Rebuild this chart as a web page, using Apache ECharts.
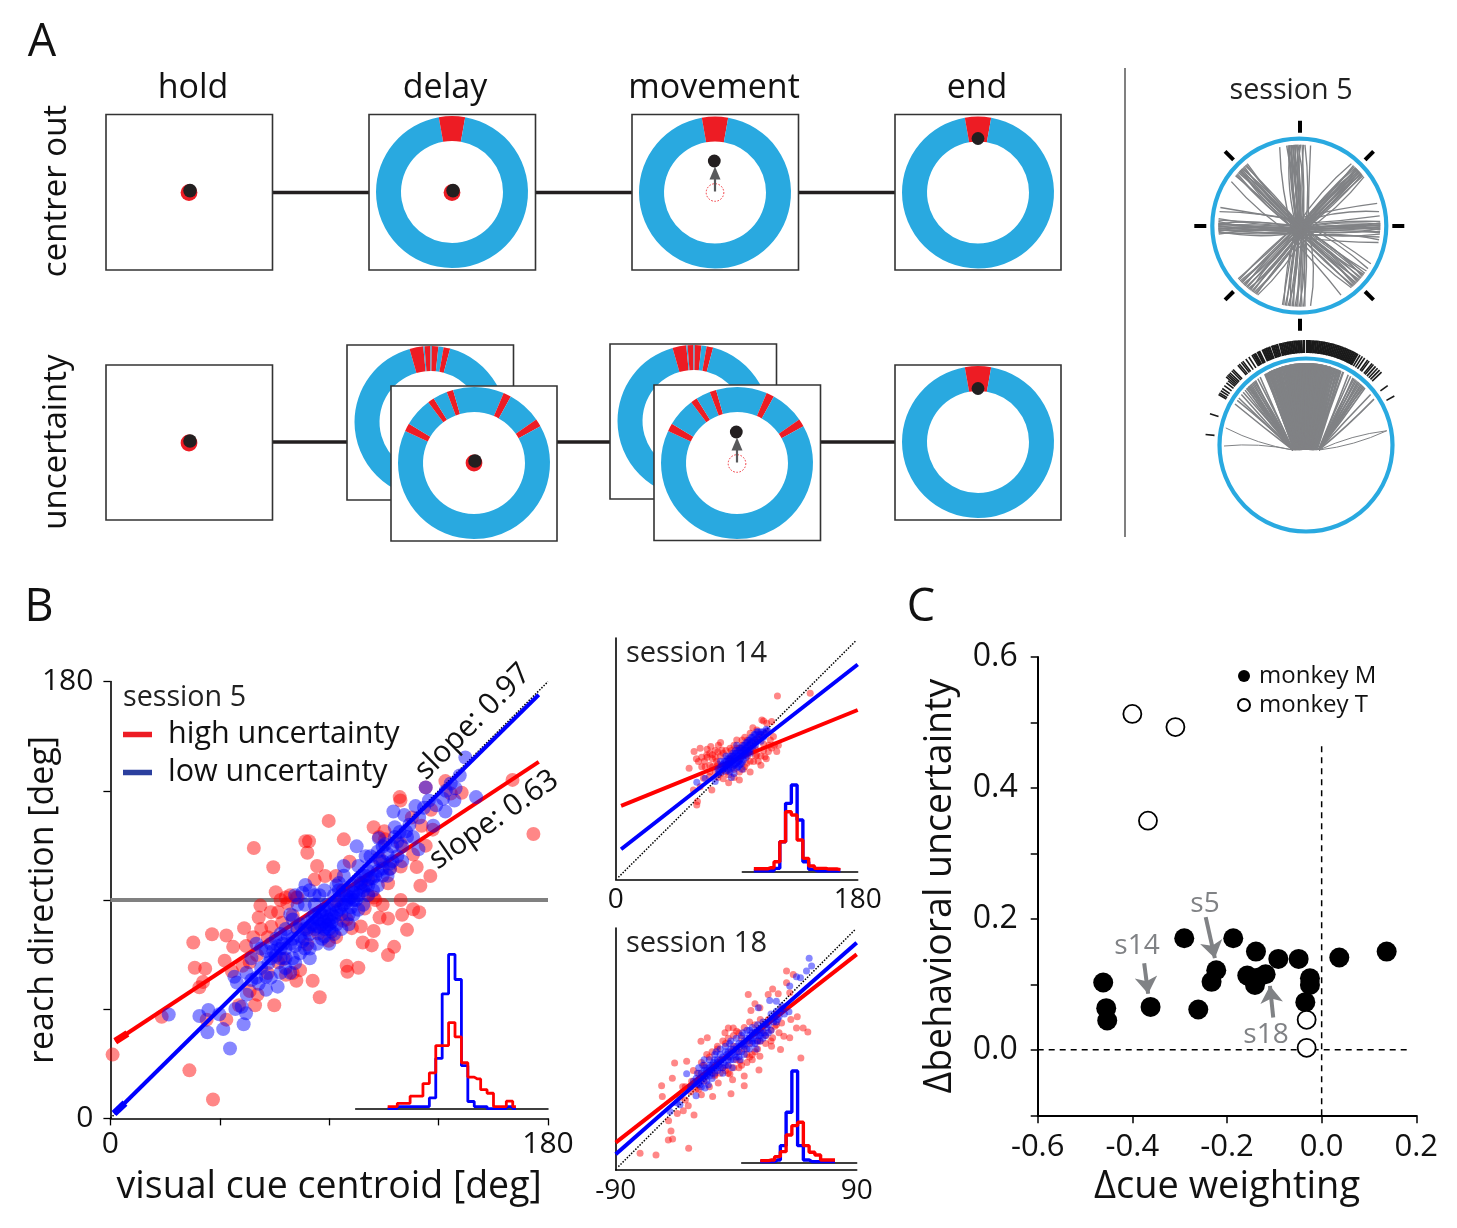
<!DOCTYPE html>
<html><head><meta charset="utf-8"><style>html,body{margin:0;padding:0;background:#fff}#c{width:1457px;height:1228px}</style>
<script src="https://cdn.jsdelivr.net/npm/echarts@6/dist/echarts.min.js"></script></head><body><div id="c"></div>
<script>
/* ---------- data ---------- */
const phaseTitles = ['hold','delay','movement','end'];
const cueSingle = [[-10,10]];
const cueBack = [[-16,-5.5],[-4.5,0],[1,6],[10,15]];
const cueFront = [[-65,-59],[-37,-32],[-21,-16],[23,29],[55,61]];

const targetAngles = [0,45,90,135,180,225,270,315];
const centerOutEnds = [
 -14,-9,-8,-7.5,-7,-6.5,-6,-5.5,-5,-4.5,-4,-3.5,-3,-2.5,-2,-1.5,-1,0,1,2,3,4,8,
 40,42,43,44,44.5,45,45.5,46,46.5,47,47.5,48,48.5,49,49.5,50,50.5,51,52,53,
 74,80,83,87,88,88.5,89,89.5,90,90.5,91,91.5,92,92.5,93,94,95,96,98,100,102,
 118,122,124,126,127,128,129,130,131,132,133,134,135,136,137,138,139,140,149,
 172,176,177,178,179,180,181,182,183,184,185,186,187,188,189,190,191,192,
 211,212,213,214,215,216,217,218,219,220,221,222,223,224,225,226,227,228,229,
 264,265,266,266.5,267,267.5,268,268.5,269,269.5,270,270.5,271,271.5,272,273,274,275,280,283,
 303,308,309,310,311,312,312.5,313,313.5,314,314.5,315,316,317,318,319,320];
const centerOutBends = [0.06,-0.04,0.02,-0.08,0.03,0.1,-0.02,0.05,-0.06,0.01,0.08,-0.03,0.04];
const bundleCentres = [-3,47,91,131,184,220,269,314];

const fanEnds = [-90.7,-78,-60,-57,-55,-52,-50,-48,-46.5,-46,-45,-44.5,-44,-43,-42,-41,-40,-39,-38,-36,-34,
 -30,-29,-28,-27,-26,-25.5,-25,-24.5,-24,-23,-22.5,-22,-21,-20.5,-20,-19,-18.5,-18,-17,-16.5,-16,-15,-14.5,-14,-13.5,-13,-12,-11.5,-11,-10.5,-10,-9,-8.5,-8,-7.5,-7,-6.5,-6,-5.5,-5,-4.5,-4,-3.5,-3,-2.5,-2,-1.5,-1,-0.5,0,
 0.5,1,1.5,2,2.5,3,3.5,4,4.5,5,5.5,6,6.5,7,7.5,8,8.5,9,9.5,10,10.5,11,11.5,12,12.5,13,13.5,14,14.5,15,16,16.5,17,17.5,18,19,20,21,22,23,24,25,27,
 31,33,35,36,37,38,39,40,41,42,43,44,45,46,52,56,80,80];
const fanBends = [0.05,-0.03,0.02,-0.05,0.01,0.04,-0.02,0.03,-0.04];
const rugAngles = [-84,-72,-60,-59,-57.5,-56,-54,-52,-50.5,-49.5,-48.5,-47.5,-46.5,-45,-44,-40.5,-39.5,-38,-37,-35,-33,-31,-30,-29,-27.5,-26.5,
 -24.5,-23.5,-22.5,-21.5,-20.5,-19,-18,-17,-16,-14.5,-13.5,-12.5,-11.5,-10.5,-9.5,-8.5,-7.5,-6.5,-5.5,-4.5,-3.5,-2.5,-1.5,
 0.5,1.5,2.5,3.5,4.5,5.5,6.5,7.5,8.5,9.5,10.5,11.5,12.5,13.5,14.5,15.5,16.5,17.5,18.5,19.5,20.5,21.5,22.5,23.5,24.5,25.5,26.5,27.5,28.5,29.5,31,32.5,34,36,37,39,40,41.5,43,44.5,46,54,61];

const sessionFiveRed = [[0.9,26.3],[32.5,19.8],[42.2,7.8],[21.1,41.9],[34.1,72.5],[41.8,75.9],[47.7,75.4],[50.5,70.7],[34.7,62.1],[39,61.7],[38.1,56.2],[47,65],[50,60.6],[55.8,71],[55,78.4],[61.7,87.7],[61,82.8],[59,111.4],[67,103.5],[68,93.2],[80.2,114.2],[81.7,114.2],[81,109.5],[89.8,122.6],[96,115],[85,104],[84,98.4],[92.8,99.9],[98.4,105.8],[108.3,120],[112.7,118.3],[119,132.4],[119.3,131],[129.7,136.4],[137.8,139],[144.5,134.2],[165.4,139.5],[174,117.2],[131.9,127.2],[124.5,108.7],[126,103.6],[131.6,99.9],[127.5,95.9],[119.4,103.8],[114.2,96.9],[119.4,90],[112,88],[110.7,82.8],[114.2,82.4],[120,83.9],[124.5,86.2],[127,85],[122,77.7],[108.3,77.2],[103.8,72.5],[107.5,71.3],[116.7,70.7],[114.2,67.3],[97.2,62.9],[97.5,60.4],[102,62.1],[86.1,49.9],[83.2,56.7],[76.5,56.7],[67.4,46.6],[59.5,46.6],[60.5,51],[47.7,40.7],[78,61.1],[72.2,59.2],[57.3,64.3],[95.7,81.4],[99.3,78.4],[103,79.1],[108.3,91],[76.5,91],[72.8,88.7],[66.2,79],[69,85],[77,91],[76.5,79],[81,71.7],[89.8,73.2],[97.2,82],[92.8,89.5],[88.3,99.9],[95.7,94],[104.6,86.5],[103,96.9],[110.5,116],[113,115],[110.5,107.2],[106,98.4],[115,103],[64.7,74.7],[58.8,74.7],[60.3,67.3],[54.4,62.9],[71.3,65.8],[75,59.9],[69,64.3],[64.7,59.9],[57.3,52.5],[52.9,46.6],[39.6,40.7],[36.6,54],[81,77.7],[85.4,76.2],[92.8,74.7],[75,83.6],[70.6,80.6],[72.1,91],[132.6,119],[140,133.9],[129.7,112.4],[119.4,113.2],[128,120.6],[124,124],[106,92],[109,90],[74,92],[70,90],[62,78],[66,85]];
const sessionFiveBlue = [[24,42.8],[36.6,42.2],[40.3,44.7],[39.9,35.5],[46.4,36.8],[49.2,28.8],[54.8,38.8],[44.8,42.9],[51.4,45.1],[55.8,43.3],[54,46],[56.1,51],[51,58.4],[61,55.5],[64,58.4],[68.8,54.3],[150.4,132.4],[143.7,141.3],[146,148.7],[129.7,136.4],[141.5,131],[137.8,126.5],[136.8,131.7],[132.8,120.6],[125.5,128.7],[116.4,126.5],[120.9,125],[117,120],[121.6,118.3],[124.5,116],[110.4,115.4],[101.3,112.1],[107,108],[115,102.8],[112,106],[80.2,96.2],[126.7,110.9],[140,138],
[62,62],[65,64],[68,67],[70,66],[72,70],[74,72],[76,71],[78,75],[79,73],[80,78],[82,76],[83,80],[84,78],[85,82],[86,79],[87,84],[88,81],[89,83],[90,80],[90,86],[91,84],[92,88],[93,85],[94,90],[95,87],[96,92],[97,89],[98,94],[99,91],[100,96],[100,90],[101,93],[102,98],[103,95],[104,100],[105,96],[106,102],[107,99],[108,104],[109,100],[111,106],[112,103],[114,109],[116,112],[113,113],[118,108],[120,112],[122,116],[72,78],[75,66],[80,70],[84,88],[88,75],[94,94],[98,84],[102,104],[106,92],[110,110],[60,58],[66,72],[70,60],[76,64],[82,70],[86,92],
[84,84],[86,82],[88,86],[89,88],[90,78],[91,81],[92,83],[93,80],[94,86],[95,84],[96,88],[97,92],[98,90],[99,87],[100,93],[101,90],[102,92],[103,97],[104,94],[105,100],[85,79],[86,85],[87,80],[88,78],[89,79],[90,82],[91,77],[83,83],[82,79],[81,81],[80,74],[78,80],[77,78],[75,74],[73,75],[71,72],[69,71],[67,69],[96,100],[94,97],[92,92],[106,96],[108,99],[110,102],[112,100],[115,105],[117,116],[119,118],[123,121],[127,124],[129,128],[131,131],[134,129],[138,135],[142,136],[64,53],[58,57],[56,60],[52,56],[74,60],[70,70],[66,66],[64,69],[72,66],
[70,76],[72,62],[75,82],[78,68],[80,88],[82,66],[84,92],[85,72],[87,74],[88,94],[90,72],[92,76],[93,96],[95,78],[96,104],[98,80],[100,84],[102,86],[104,88],[105,108],[108,94],[110,96],[112,112],[114,100],[116,106],[118,114],[120,106],[66,58],[68,74],[62,70],[58,66],[60,72],[74,84],[77,88],[76,92],[79,93],[82,94]];
const sessionFourteenRed = [[120.3,136.8],[144.7,138.8],[108.7,118.9],[116,117.7],[60.3,55.5],[60.8,58],[57.8,66.7],[71.5,66.7],[54.6,82.8],[58.3,95.3],[62.8,97.8],[61.5,87.8],[67.7,92.8],[70.7,99],[76.4,100],[92,74],[105,92.8],[102.5,87.8],[113.6,95.3],[119.8,95.3],[121,100],[117.3,106.5],[97.5,86.6],[111,91.5],[66.5,84],[69.7,76.6],[65.3,75.4],[62.8,69],[90,104],[85,97.8],[79,96.5],[105,111.4],[100,109],[112.4,116.4],[72,90],[74,96],[70,85],[75,84],[78,102],[68,97],[95,82],[100,80],[108,85],[104,97],[110,101],[115,104],[118,100],[82,80],[88,82],[92,90],[96,96],[86,92],[75,88],[64,91],[80,75],[84,78],[98,92],[106,106],[112,110],[94,100],
[66,88],[68,91],[70,94],[72,93],[74,91],[76,95],[78,92],[80,94],[82,96],[72,84],[74,80],[76,86],[78,79],[80,84],[82,85],[84,90],[86,96],[88,100],[90,98],[92,98],[94,104],[96,106],[98,104],[100,100],[102,96],[104,92],[106,88],[108,92],[110,96],[112,90],[114,100],[116,98],[100,88],[96,84],[92,80],[88,76],[84,72],[76,76],[70,80],[64,84],[60,90],[104,104],[108,108],[102,113],[110,118]];
const sessionFourteenBlue = [[60.3,72.4],[74,73],[66.5,75.4],[76,82],[78,84],[79,80],[80,86],[81,83],[82,88],[83,81],[84,85],[85,90],[85,80],[86,87],[87,92],[87,84],[88,89],[88,79],[89,94],[89,86],[90,91],[90,83],[91,96],[91,88],[92,93],[92,85],[93,98],[93,90],[94,95],[94,87],[95,100],[95,92],[96,97],[97,102],[97,93],[98,99],[99,104],[99,95],[100,101],[101,106],[102,103],[103,108],[104,100],[105,105],[106,110],[107,106],[108,103],[109,108],[110,110],[112,112],[76,78],[82,92],[90,100],[86,76],[94,82],[100,94],
[77,80],[78,88],[79,85],[80,82],[81,88],[82,85],[83,86],[83,90],[84,82],[84,88],[85,85],[85,92],[86,83],[86,90],[87,88],[87,94],[88,85],[88,92],[89,90],[89,96],[90,87],[90,94],[91,92],[91,84],[92,96],[92,88],[93,94],[93,86],[94,92],[94,98],[95,96],[95,89],[96,94],[96,100],[97,98],[97,91],[98,96],[98,102],[99,100],[100,97],[100,104],[101,102],[102,99],[102,106],[103,104],[104,102],[104,108],[105,110],[106,104],[107,108],[108,110],[110,106],[111,109],[113,111]];
const sessionEighteenRed = [[-71.8,-77.6],[-59.9,-78.8],[-35.5,-73.8],[-50.7,-67.6],[-47.5,-67],[-48.7,-60.9],[-50.5,-53.4],[-31.5,-49],[-39.5,-46],[-35.8,-42.2],[-55.2,-35.3],[-55.7,-27.3],[-47.7,-21.8],[-46,-10.4],[-37,-9.2],[-33.3,-24],[-26.3,5.8],[-21.6,8.3],[-17.6,-35.3],[-3.9,-33.3],[6,-27.3],[-2.7,-22.8],[6,-20],[17,-15.6],[-13.4,-25.3],[-15.9,-19],[-5.9,-12.9],[-4.7,-18.6],[-17,-14],[2.8,-9.2],[17.7,-5.4],[26.4,2],[33.1,-0.4],[48.3,-6.7],[35.6,9.5],[40,8.3],[27.2,8.3],[45,15.7],[50,15.7],[53.5,12.7],[40.8,21.9],[45.6,24],[33.9,19.4],[28.9,17],[11,28.7],[14,33.6],[9,40.6],[17.7,30.6],[27.2,44.6],[23.9,40.6],[31.4,41.1],[37.6,58],[42.6,55.5],[37.6,49.3],[40,41.8],[-2.2,15.7],[-8.4,12],[0.3,13.2],[-5.9,15.7],[17.7,5.8],
[-28,-18],[-24,-12],[-22,-4],[-18,-2],[-14,0],[-12,-8],[-10,-14],[-8,4],[-6,-6],[-4,-2],[-2,2],[0,-8],[2,-2],[4,8],[6,0],[8,-10],[10,4],[12,-4],[14,12],[16,6],[20,14],[22,4],[24,22],[26,14],[30,26],[32,12],[34,30],[-30,-30],[-26,-34],[-34,-32],[-38,-38],[-42,-36],[-44,-48],[-40,-28],[-20,-28],[-16,-12],
[-26,-10],[-20,-6],[-16,-20],[-12,-18],[-8,-16],[-6,-18],[-2,-14],[2,-14],[4,-12],[8,-4],[10,-6],[12,-8],[14,-2],[16,0],[-24,-24],[-28,-30],[-14,2],[-10,6],[-6,8],[-2,10],[2,12],[6,16],[10,20],[14,18],[18,22],[22,10],[26,6],[30,18],[-38,-28],[-32,-16]];
const sessionEighteenBlue = [[54.5,67.5],[52.5,58],[56.3,61.7],[45,53.8],[48,53],[40,46.8],[30,35.6],[16.5,30.6],[25,36],[-37,-18.4],[-44.5,-40],[-30,-34.8],[-23.3,-29],[-20.8,-26.6],[-27,-26.6],[-49.5,-46.4],[-42,-41.5],[39.4,27.7],
[-30,-22],[-28,-26],[-26,-18],[-24,-22],[-22,-16],[-20,-20],[-18,-12],[-16,-18],[-14,-8],[-12,-14],[-10,-6],[-8,-12],[-6,-2],[-4,-8],[-2,0],[0,-6],[2,4],[4,-2],[6,6],[8,0],[10,10],[12,4],[14,12],[16,6],[18,14],[20,8],[22,18],[24,12],[26,26],[28,20],[30,28],[32,24],[34,32],[36,26],[-25,-12],[-15,-2],[-5,4],[5,12],[15,0],[-10,-18],[-18,-22],[3,-8],[10,14],[-3,-14],
[-29,-18],[-27,-22],[-25,-20],[-23,-14],[-21,-18],[-19,-16],[-17,-10],[-15,-14],[-13,-12],[-11,-8],[-9,-10],[-7,-4],[-5,-6],[-3,-3],[-1,-4],[1,-2],[3,2],[5,3],[7,4],[9,6],[11,8],[13,8],[15,10],[17,10],[19,12],[21,12],[23,16],[-24,-16],[-20,-12],[-16,-8],[-12,-4],[-8,-2],[-4,0],[0,0],[4,4],[8,8],[12,12],[16,14],[-20,-14],[-14,-10],[-6,-8],[0,2],[6,2],[12,6],[18,10],[24,18],[27,22],[29,24],[31,22],[33,28],[35,30],[-30,-26],[-26,-24],[-22,-20],
[-28,-14],[-24,-8],[-20,-8],[-16,-4],[-12,0],[-8,2],[-4,6],[0,8],[4,10],[8,14],[12,16],[16,18],[20,20],[-26,-28],[-22,-24],[-18,-18],[-14,-16],[-10,-14],[-6,-12],[-2,-8],[2,-6],[6,-4],[10,0],[14,4],[18,6],[22,10],[26,14],[30,20],[-32,-24],[-34,-28]];

const lineBlueMain = [[1.5,2],[176.2,174.6]];
const lineRedMain = [[2,31.8],[176.2,146.9]];
const stubBlueMain = [[1.5,2],[6,6.3]];
const stubRedMain = [[2,31.8],[7,35]];
const lineBlue14 = [[4,22.4],[180,160.2]];
const lineRed14 = [[4,54.7],[180,126.3]];
const lineBlue18 = [[-90,-78.3],[90,79]];
const lineRed18 = [[-90,-69.6],[90,70.4]];

const histBinsMain = [-60,-54,-48,-42,-36,-30,-24,-18,-12,-6,0,6,12,18,24,30,36,42,48,54,60];
const histBlueMain = [0,0,0.6,0.6,0.6,0.6,0.6,3,14,32,43,36,12,2,0.6,0.6,0,0,0,0.6,0];
const histRedMain = [0.6,0.6,1.5,1.5,3.5,3.5,7,10,17.6,17.6,24,20,12.8,8.8,8.3,5.3,4.3,0.6,0.6,2.1,0.6];
const histBins14 = [-72,-63,-54,-45,-36,-27,-18,-9,0,9,18,27,36,45,54,63];
const histBlue14 = [0.3,0.3,0.3,0.3,1,9,20.5,26,15.5,3,0.7,0.3,0.3,0.3,0.3,0.3];
const histRed14 = [0.9,0.9,0.9,1.2,3,9,18,17,9.5,4,1.7,1,1,0.8,0.8,0.6];
const histBins18 = [-61,-52,-43,-34,-25,-16,-7,2,11,20,29,38,47,56];
const histBlue18 = [0.2,0.2,0.2,0.7,5,15,27.4,5,0.7,0.2,0.2,0.2,0.2,0.2];
const histRed18 = [0.5,0.5,0.7,1.7,3.2,8.2,11,12,5,3,2.2,0.7,0.7,0.7];

const monkeyM = [[-0.4616,0.1028],[-0.4552,0.0636],[-0.4531,0.0448],[-0.3615,0.0656],[-0.2903,0.1705],[-0.2607,0.0616],[-0.2326,0.1038],[-0.2227,0.1216],[-0.1868,0.1705],[-0.1572,0.1135],[-0.1409,0.0992],[-0.1388,0.1501],[-0.1184,0.1155],[-0.0916,0.1389],[-0.0486,0.1389],[-0.0247,0.1094],[-0.0247,0.0992],[-0.0345,0.0728],[0.0373,0.141],[0.1374,0.1501],[-0.135,0.11]];
const monkeyT = [[-0.4,0.513],[-0.309,0.493],[-0.367,0.35],[-0.0317,0.0458],[-0.0317,0.0031]];
const arrowsC = [[[-0.245,0.2026],[-0.2256,0.14]],[[-0.375,0.1324],[-0.3666,0.0855]],[[-0.1023,0.0493],[-0.1093,0.0977]]];

/* ---------- styles and helpers ---------- */
const FONT='"Open Sans"', RED='#ed1c24', CYAN='#29a9e0', INK='#231f20', GREY='#808285';
const PURE_RED='#ff0000', PURE_BLUE='#0000ff';
const g=[];
const text=(t,x,y,size,o={})=>g.push({type:'text',x,y,z:8,rotation:(o.rot||0)*Math.PI/180,silent:true,style:{text:t,fontSize:size,fontFamily:FONT,fill:o.fill||'#111',textAlign:o.align||'center',textVerticalAlign:'middle'}});
const box=(x0,y0,x1,y1,z)=>g.push({type:'rect',z,silent:true,shape:{x:x0,y:y0,width:x1-x0,height:y1-y0},style:{fill:'#fff',stroke:'#333',lineWidth:1.6}});
const hline=(x0,x1,y)=>g.push({type:'line',z:0,silent:true,shape:{x1:x0,y1:y,x2:x1,y2:y},style:{stroke:INK,lineWidth:3.6}});
const dot=(x,y,r,c)=>g.push({type:'circle',z:7,silent:true,shape:{cx:x,cy:y,r},style:{fill:c}});
const cursor=(x,y)=>{dot(x-1,y+2,8.4,RED);dot(x,y,6.8,INK)};
const move=(cx,cy)=>{
  g.push({type:'circle',z:7,silent:true,shape:{cx,cy,r:8.8},style:{fill:'none',stroke:RED,lineWidth:0.9,lineDash:[1.6,1.6]}});
  g.push({type:'line',z:7,silent:true,shape:{x1:cx,y1:cy-1,x2:cx,y2:cy-16},style:{stroke:'#58595b',lineWidth:2.2}});
  g.push({type:'polygon',z:7,silent:true,shape:{points:[[cx,cy-26],[cx-5.5,cy-13],[cx+5.5,cy-13]]},style:{fill:'#58595b'}});
  dot(cx-0.7,cy-31.5,6.4,INK);
};
const series=[];
function ring(cx,cy,cues,z){
  const data=[];let at=-180;
  cues.forEach(c=>{data.push({value:c[0]-at,itemStyle:{color:CYAN}});data.push({value:c[1]-c[0],itemStyle:{color:RED}});at=c[1]});
  data.push({value:180-at,itemStyle:{color:CYAN}});
  series.push({type:'pie',z,silent:true,animation:false,center:[cx,cy],radius:[51,76],startAngle:-90,clockwise:true,label:{show:false},labelLine:{show:false},itemStyle:{borderWidth:0},data});
}

/* panel A schematic */
[['A',42,43],['B',39,608],['C',921,608]].forEach(p=>text(p[0],p[1],p[2],45));
[193,445,714,977].forEach((x,i)=>text(phaseTitles[i],x,88,34));
text('centrer out',57,191,33,{rot:90});
text('uncertainty',57,442,33,{rot:90});
hline(272,369,192.5);hline(535,632,192.5);hline(798,895,192.5);
hline(272,347,442);hline(557,610,442);hline(820,895,442);
box(106,114.5,272.5,270,1);box(369,114.5,535.5,270,1);box(632,114.5,798.5,270,1);box(895,114.5,1061,270,1);
box(106,365,272.5,520,1);box(895,365,1061,520,1);
box(347,345,513.5,500,1);box(610,344,776.5,499,1);
box(391,386,557,541,5);box(654,385,820.5,540.5,5);
ring(452,192,cueSingle,3);ring(715,192.5,cueSingle,3);ring(978,192.5,cueSingle,3);ring(978,442,cueSingle,3);
ring(430.5,422,cueBack,3);ring(693.5,421,cueBack,3);
ring(474,463,cueFront,6);ring(737,463,cueFront,6);
cursor(190,190.6);cursor(453,190.6);cursor(190,441);cursor(475,461);
move(715,192.5);move(737,463.5);
dot(978,138.5,6.4,INK);dot(978,388.5,6.4,INK);
g.push({type:'line',z:1,silent:true,shape:{x1:1125,y1:68,x2:1125,y2:537},style:{stroke:'#808080',lineWidth:2}});
text('session 5',1291,91,28.7,{fill:'#222'});
const trialCircle=(cx,cy,r)=>g.push({type:'circle',z:7,silent:true,shape:{cx,cy,r},style:{fill:'none',stroke:CYAN,lineWidth:4.2}});
trialCircle(1299.3,225.7,87);trialCircle(1306,445,86.5);

/* panel B / C free text */
text('session 5',123,698,28.7,{align:'left',fill:'#222'});
text('slope: 0.97',473,722,30,{rot:45,fill:'#111'});
text('slope: 0.63',494,820,30,{rot:35,fill:'#111'});
text('session 14',626,654,29,{align:'left',fill:'#222'});
text('session 18',626,944,29,{align:'left',fill:'#222'});
text('s5',1205,904,28,{fill:GREY});
text('s14',1137,946,28,{fill:GREY});
text('s18',1266,1035,28,{fill:GREY});

/* grids */
const GR=[
 {left:110.4,top:681.6,width:437.6,height:436.8},
 {left:355.6,top:954.4,width:192.4,height:154.3},
 {left:615.7,top:638,width:242,height:241.3},
 {left:742.3,top:785,width:115.4,height:86.7},
 {left:615.7,top:928,width:241,height:242},
 {left:741.7,top:1071,width:115,height:91.3},
 {left:1037.7,top:657,width:378.6,height:458.3},
 {left:1189.3,top:115.7,width:220,height:220},
 {left:1196,top:335,width:220,height:220}
];
const off={show:false};
const line1={onZero:false,lineStyle:{color:'#000',width:1.6}};
const lineHist={onZero:false,lineStyle:{color:'#000',width:1.5}};
const lineC={onZero:false,lineStyle:{color:'#000',width:2}};
const endLabels=(a,b)=>v=>(v===a||v===b)?String(v):'';
const xAxes=[
 {gridIndex:0,type:'value',min:0,max:180,interval:45,axisLine:line1,axisTick:{length:7,lineStyle:{color:'#000',width:1.3}},splitLine:off,
  axisLabel:{formatter:endLabels(0,180),fontSize:30,fontFamily:FONT,color:'#111',margin:11,hideOverlap:false},
  name:'visual cue centroid [deg]',nameLocation:'middle',nameGap:50,nameMoveOverlap:false,nameTextStyle:{fontSize:37.5,fontFamily:FONT,color:'#111'}},
 {gridIndex:1,type:'value',min:-90,max:90,axisLine:lineHist,axisTick:off,axisLabel:off,splitLine:off},
 {gridIndex:2,type:'value',min:0,max:180,interval:180,axisLine:line1,axisTick:off,splitLine:off,axisLabel:{fontSize:28,fontFamily:FONT,color:'#111',margin:7}},
 {gridIndex:3,type:'value',min:-90,max:90,axisLine:lineHist,axisTick:off,axisLabel:off,splitLine:off},
 {gridIndex:4,type:'value',min:-90,max:90,interval:90,axisLine:line1,axisTick:off,splitLine:off,axisLabel:{formatter:endLabels(-90,90),fontSize:28,fontFamily:FONT,color:'#111',margin:7}},
 {gridIndex:5,type:'value',min:-90,max:90,axisLine:lineHist,axisTick:off,axisLabel:off,splitLine:off},
 {gridIndex:6,type:'value',min:-0.6,max:0.2,interval:0.2,axisLine:lineC,axisTick:{length:8,lineStyle:{color:'#000',width:1.5}},splitLine:off,
  axisLabel:{formatter:v=>v.toFixed(1),fontSize:31,fontFamily:FONT,color:'#111',margin:16},
  name:'Δcue weighting',nameLocation:'middle',nameGap:53,nameMoveOverlap:false,nameTextStyle:{fontSize:38,fontFamily:FONT,color:'#111'}},
 {gridIndex:7,type:'value',min:-110,max:110,show:false},
 {gridIndex:8,type:'value',min:-110,max:110,show:false}
];
const yAxes=[
 {gridIndex:0,type:'value',min:0,max:180,interval:45,axisLine:line1,axisTick:{length:7,lineStyle:{color:'#000',width:1.3}},splitLine:off,
  axisLabel:{formatter:endLabels(0,180),fontSize:30,fontFamily:FONT,color:'#111',margin:17},
  name:'reach direction [deg]',nameLocation:'middle',nameGap:50,nameMoveOverlap:false,nameTextStyle:{fontSize:34,fontFamily:FONT,color:'#111'}},
 {gridIndex:1,type:'value',min:0,max:43,show:false},
 {gridIndex:2,type:'value',min:0,max:180,interval:180,axisLine:line1,axisTick:off,axisLabel:off,splitLine:off},
 {gridIndex:3,type:'value',min:0,max:26,show:false},
 {gridIndex:4,type:'value',min:-90,max:90,interval:90,axisLine:line1,axisTick:off,axisLabel:off,splitLine:off},
 {gridIndex:5,type:'value',min:0,max:27.4,show:false},
 {gridIndex:6,type:'value',min:-0.1,max:0.6,interval:0.1,axisLine:lineC,axisTick:{length:7,lineStyle:{color:'#000',width:1.5}},splitLine:off,
  axisLabel:{formatter:v=>Math.round(v*10)%2===0?v.toFixed(1):'',fontSize:32,fontFamily:FONT,color:'#111',margin:20},
  name:'Δbehavioral uncertainty',nameLocation:'middle',nameGap:78,nameMoveOverlap:false,nameTextStyle:{fontSize:37.5,fontFamily:FONT,color:'#111'}},
 {gridIndex:7,type:'value',min:-110,max:110,show:false},
 {gridIndex:8,type:'value',min:-110,max:110,show:false}
];
const on=i=>({xAxisIndex:i,yAxisIndex:i});
const dots=(i,data,color,size,z)=>series.push({...on(i),type:'scatter',data,symbolSize:size,z,silent:true,animation:false,clip:false,large:false,itemStyle:{color,opacity:0.47,borderWidth:0}});
const seg=(i,data,color,width,z,extra={})=>series.push({...on(i),type:'line',data,symbol:'none',z,silent:true,animation:false,clip:false,lineStyle:{color,width,cap:'butt'},...extra});
const hist=(i,bins,vals,color,width,z)=>seg(i,bins.map((b,k)=>[b,vals[k]]),color,width,z,{step:'middle'});
const dotted={lineStyle:{color:'#000',width:1.5,type:[1.5,1.5]}};
const dashed={lineStyle:{color:'#000',width:1.5,type:[6,5]}};

/* session 5 */
seg(0,[[0,90],[180,90]],'#808080',3.8,2);
dots(0,sessionFiveRed,PURE_RED,14,3);
seg(0,lineRedMain,PURE_RED,4,4,{name:'high uncertainty'});
seg(0,stubRedMain,PURE_RED,7,4);
seg(0,[[0,0],[180,180]],'#000',1.5,4,dotted);
dots(0,sessionFiveBlue,PURE_BLUE,14,5);
seg(0,lineBlueMain,PURE_BLUE,4,6,{name:'low uncertainty'});
seg(0,stubBlueMain,PURE_BLUE,7,6);
hist(1,histBinsMain,histBlueMain,PURE_BLUE,2.8,7);
hist(1,histBinsMain,histRedMain,PURE_RED,2.8,8);
/* session 14 */
seg(2,[[2,1.5],[178.7,178]],'#000',1.5,3,dotted);
dots(2,sessionFourteenRed,PURE_RED,7,3);
seg(2,lineRed14,PURE_RED,4,4);
dots(2,sessionFourteenBlue,PURE_BLUE,7,5);
seg(2,lineBlue14,PURE_BLUE,4,4);
hist(3,histBins14,histBlue14,PURE_BLUE,3.4,7);
hist(3,histBins14,histRed14,PURE_RED,3.4,8);
/* session 18 */
seg(4,[[-88,-87.5],[89,89]],'#000',1.5,3,dotted);
dots(4,sessionEighteenRed,PURE_RED,7,3);
seg(4,lineRed18,PURE_RED,4,4);
dots(4,sessionEighteenBlue,PURE_BLUE,7,5);
seg(4,lineBlue18,PURE_BLUE,4,4);
hist(5,histBins18,histBlue18,PURE_BLUE,3.4,7);
hist(5,histBins18,histRed18,PURE_RED,3.4,8);

/* panel C */
seg(6,[[-0.6,0],[0.19,0]],'#000',1.5,2,dashed);
seg(6,[[0,-0.1],[0,0.47]],'#000',1.5,2,dashed);
series.push({...on(6),name:'monkey M',type:'scatter',data:monkeyM,symbolSize:20,z:4,silent:true,animation:false,itemStyle:{color:'#000',opacity:1}});
series.push({...on(6),name:'monkey T',type:'scatter',data:monkeyT,symbolSize:18,z:5,silent:true,animation:false,itemStyle:{color:'#fff',borderColor:'#000',borderWidth:1.8,opacity:1}});
series.push({...on(6),type:'lines',coordinateSystem:'cartesian2d',z:6,silent:true,animation:false,symbol:['none','arrow'],symbolSize:17,lineStyle:{color:GREY,width:4,opacity:1},data:arrowsC.map(c=>({coords:c}))});

/* panel A: reach trajectories (angle clockwise from the top) */
const at=(deg,r)=>{const a=deg*Math.PI/180;return [r*Math.sin(a),r*Math.cos(a)]};
const nearest=d=>bundleCentres.reduce((b,c)=>Math.abs(c-d)<Math.abs(b-d)?c:b);
const startOf=(d,k)=>{ /* lines of a bundle stay nearly parallel: start beside the bundle axis */
  const c=nearest(d),off=(d-c)*0.7,p=at(c+90,off),s=at(c,-3+(k%5));
  return [p[0]+s[0]+1,p[1]+s[1]-4];
};
series.push({...on(7),type:'lines',coordinateSystem:'cartesian2d',z:4,silent:true,animation:false,lineStyle:{color:GREY,width:1.35,opacity:1},
  data:centerOutEnds.map((d,k)=>({coords:[startOf(d,k),at(d,81)],lineStyle:{curveness:centerOutBends[k%centerOutBends.length]}}))});
series.push({...on(7),type:'lines',coordinateSystem:'cartesian2d',z:4,silent:true,animation:false,lineStyle:{color:'#000',width:4,opacity:1},
  data:targetAngles.map(d=>({coords:[at(d,93),at(d,105)]}))});
series.push({...on(8),type:'lines',coordinateSystem:'cartesian2d',z:4,silent:true,animation:false,lineStyle:{color:GREY,width:1.5,opacity:1},
  data:fanEnds.map((d,k)=>({coords:[[Math.max(-13,Math.min(13,d*0.4)),-5],at(d,82)],lineStyle:{width:Math.abs(d)>70?1:(Math.abs(d)>30?1.6:2.2),curveness:Math.abs(d)>70?(k%2?0.08:-0.08):fanBends[k%fanBends.length]*0.5}}))});
series.push({...on(8),type:'lines',coordinateSystem:'cartesian2d',z:4,silent:true,animation:false,lineStyle:{color:'#1a1a1a',width:1.5,opacity:1},
  data:rugAngles.map(d=>({coords:[at(d,92),at(d,Math.abs(d)>50?101:105)],lineStyle:{width:Math.abs(d)<=30?2.2:1.6}}))});

const option={
  backgroundColor:'#fff',animation:false,textStyle:{fontFamily:FONT},
  grid:GR,xAxis:xAxes,yAxis:yAxes,series,
  legend:[
   {left:123,top:719,padding:0,orient:'vertical',itemWidth:29,itemHeight:5.5,itemGap:7,selectedMode:false,
    textStyle:{fontSize:30.5,fontFamily:FONT,color:'#111',padding:[0,0,0,11]},
    data:[{name:'high uncertainty',icon:'rect',itemStyle:{color:RED}},{name:'low uncertainty',icon:'rect',itemStyle:{color:'#2b3f9e'}}]},
   {left:1237,top:664,padding:0,orient:'vertical',itemWidth:12,itemHeight:12,itemGap:5,selectedMode:false,
    textStyle:{fontSize:24,fontFamily:FONT,color:'#111',padding:[0,0,0,4]},
    data:[{name:'monkey M',icon:'circle'},{name:'monkey T',icon:'circle'}]}
  ],
  graphic:g
};
echarts.init(document.getElementById('c'),null,{renderer:'canvas'}).setOption(option);
</script></body></html>
